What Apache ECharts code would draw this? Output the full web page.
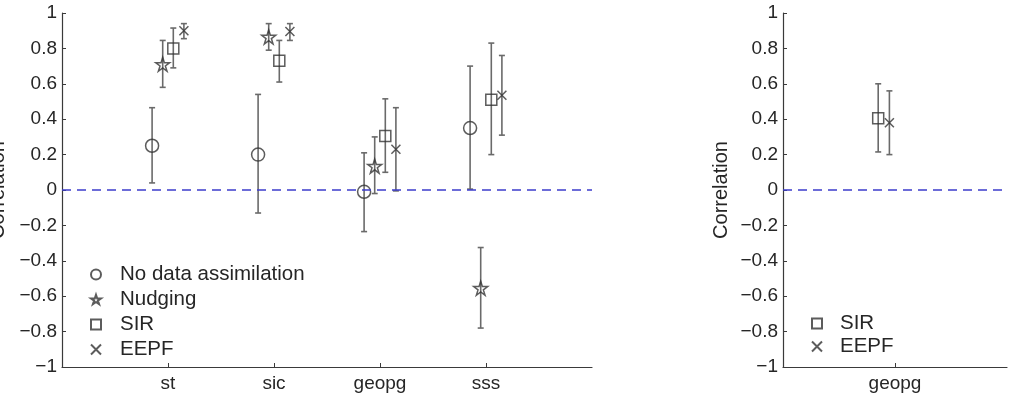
<!DOCTYPE html>
<html>
<head>
<meta charset="utf-8">
<script src="https://cdn.jsdelivr.net/npm/echarts@6/dist/echarts.min.js"></script>
<style>
  html, body { margin: 0; padding: 0; background: #fff; }
  #chart { width: 1012px; height: 398px; }
</style>
</head>
<body>
<div id="chart"></div>
<script>
// left panel data
const categories = ['st', 'sic', 'geopg', 'sss'];
const noDA = [0.25, 0.20, -0.01, 0.35];
const noDALow = [0.04, -0.13, -0.235, 0.005];
const noDAHigh = [0.465, 0.54, 0.21, 0.70];
const nudging = [0.71, 0.865, 0.135, -0.555];
const nudgingLow = [0.58, 0.79, -0.02, -0.78];
const nudgingHigh = [0.845, 0.94, 0.30, -0.325];
const sir = [0.80, 0.73, 0.305, 0.51];
const sirLow = [0.69, 0.61, 0.10, 0.20];
const sirHigh = [0.915, 0.845, 0.515, 0.83];
const eepf = [0.90, 0.895, 0.23, 0.535];
const eepfLow = [0.855, 0.845, -0.005, 0.31];
const eepfHigh = [0.94, 0.94, 0.465, 0.76];

// right panel data
const categories2 = ['geopg'];
const sir2 = [0.405];
const sir2Low = [0.215];
const sir2High = [0.60];
const eepf2 = [0.38];
const eepf2Low = [0.20];
const eepf2High = [0.56];

const FONT = 'Liberation Sans, Arial, Helvetica, sans-serif';
const TXT = '#262626';
const MARK = '#333';
const BAR = '#6a6a6a';

const starPath = 'path://M10,0L12.25,6.91L19.51,6.91L13.63,11.18L15.88,18.09L10,13.82L4.12,18.09L6.37,11.18L0.49,6.91L7.75,6.91Z';
const crossPath = 'path://M0,0L10,10M10,0L0,10';

function pts(vals, off) {
  return vals.map((v, i) => [i + 1 + off, v]);
}
function bars(lo, hi, off) {
  return lo.map((v, i) => [i + 1 + off, v, hi[i]]);
}

// vertical error bar with caps
function renderErr(params, api) {
  const x = api.value(0);
  const pLo = api.coord([x, api.value(1)]);
  const pHi = api.coord([x, api.value(2)]);
  const c = 3;
  const style = { stroke: BAR, lineWidth: 1.6 };
  return {
    type: 'group',
    children: [
      { type: 'line', shape: { x1: pLo[0], y1: pLo[1], x2: pHi[0], y2: pHi[1] }, style: style },
      { type: 'line', shape: { x1: pLo[0] - c, y1: pLo[1], x2: pLo[0] + c, y2: pLo[1] }, style: style },
      { type: 'line', shape: { x1: pHi[0] - c, y1: pHi[1], x2: pHi[0] + c, y2: pHi[1] }, style: style }
    ]
  };
}

function errSeries(name, data, idx) {
  return {
    name: name, type: 'custom', xAxisIndex: idx, yAxisIndex: idx,
    renderItem: renderErr, data: data, z: 2, silent: true
  };
}
function markSeries(name, data, idx, symbol, size) {
  return {
    name: name, type: 'scatter', xAxisIndex: idx, yAxisIndex: idx,
    symbol: symbol, symbolSize: size, data: data, z: 3,
    itemStyle: { color: 'rgba(0,0,0,0)', borderColor: MARK, borderWidth: 1.5 }
  };
}

function yAxisCfg(idx) {
  return {
    gridIndex: idx, type: 'value', min: -1, max: 1, interval: 0.2,
    name: 'Correlation', nameLocation: 'middle', nameGap: 52,
    nameTextStyle: { fontFamily: FONT, fontSize: 20, color: TXT },
    axisLine: { show: true, lineStyle: { color: '#3a3a3a', width: 1.2 } },
    axisTick: { show: true, inside: true, length: 4, lineStyle: { color: '#3a3a3a' } },
    axisLabel: {
      fontFamily: FONT, fontSize: 19, color: TXT, margin: 5,
      formatter: v => {
        const r = Math.round(v * 10) / 10;
        if (r === 0) return '0';
        return (r < 0 ? '\u2212' : '') + String(Math.abs(r));
      }
    },
    splitLine: { show: false }
  };
}
function xAxisCfg(idx, cats) {
  const ticks = cats.map((c, i) => i + 1);
  return {
    gridIndex: idx, type: 'value', min: 0, max: cats.length + 1, interval: 1,
    axisLine: { show: true, onZero: false, lineStyle: { color: '#3a3a3a', width: 1.2 } },
    axisTick: { show: true, inside: true, length: 4, customValues: ticks, lineStyle: { color: '#3a3a3a' } },
    axisLabel: {
      fontFamily: FONT, fontSize: 19, color: TXT, margin: 7,
      customValues: ticks,
      formatter: v => cats[Math.round(v) - 1] || ''
    },
    splitLine: { show: false }
  };
}

const zeroLine = {
  silent: true, symbol: 'none', label: { show: false },
  lineStyle: { color: '#3d3dcc', width: 1.6, type: [9, 6] },
  data: [{ yAxis: 0 }]
};

const chart = echarts.init(document.getElementById('chart'));
const option = {
  animation: false,
  backgroundColor: '#fff',
  textStyle: { fontFamily: FONT },
  grid: [
    { left: 62, top: 13, width: 530, height: 354, outerBoundsMode: 'none', containLabel: false },
    { left: 783, top: 13, width: 224, height: 354, outerBoundsMode: 'none', containLabel: false }
  ],
  xAxis: [xAxisCfg(0, categories), xAxisCfg(1, categories2)],
  yAxis: [yAxisCfg(0), yAxisCfg(1)],
  legend: [
    {
      data: ['No data assimilation', 'Nudging', 'SIR', 'EEPF'],
      orient: 'vertical', left: 90, top: 264, padding: 0,
      itemWidth: 10, itemHeight: 10, itemGap: 4,
      textStyle: { fontFamily: FONT, fontSize: 20.5, color: TXT, padding: [0, 0, 0, 14] }
    },
    {
      data: ['SIR', 'EEPF'],
      orient: 'vertical', left: 811, top: 313, padding: 0,
      itemWidth: 10, itemHeight: 10, itemGap: 2,
      textStyle: { fontFamily: FONT, fontSize: 20.5, color: TXT, padding: [0, 0, 0, 13] }
    }
  ],
  series: [
    errSeries('noDA bars', bars(noDALow, noDAHigh, -0.15), 0),
    errSeries('nudging bars', bars(nudgingLow, nudgingHigh, -0.05), 0),
    errSeries('sir bars', bars(sirLow, sirHigh, 0.05), 0),
    errSeries('eepf bars', bars(eepfLow, eepfHigh, 0.15), 0),
    Object.assign(markSeries('No data assimilation', pts(noDA, -0.15), 0, 'circle', 13), { markLine: zeroLine }),
    markSeries('Nudging', pts(nudging, -0.05), 0, starPath, 14),
    markSeries('SIR', pts(sir, 0.05), 0, 'rect', 11),
    markSeries('EEPF', pts(eepf, 0.15), 0, crossPath, 9),
    errSeries('sir2 bars', bars(sir2Low, sir2High, -0.15), 1),
    errSeries('eepf2 bars', bars(eepf2Low, eepf2High, -0.05), 1),
    Object.assign(markSeries('SIR', pts(sir2, -0.15), 1, 'rect', 11), { markLine: zeroLine }),
    markSeries('EEPF', pts(eepf2, -0.05), 1, crossPath, 9)
  ]
};
chart.setOption(option);
</script>
</body>
</html>
